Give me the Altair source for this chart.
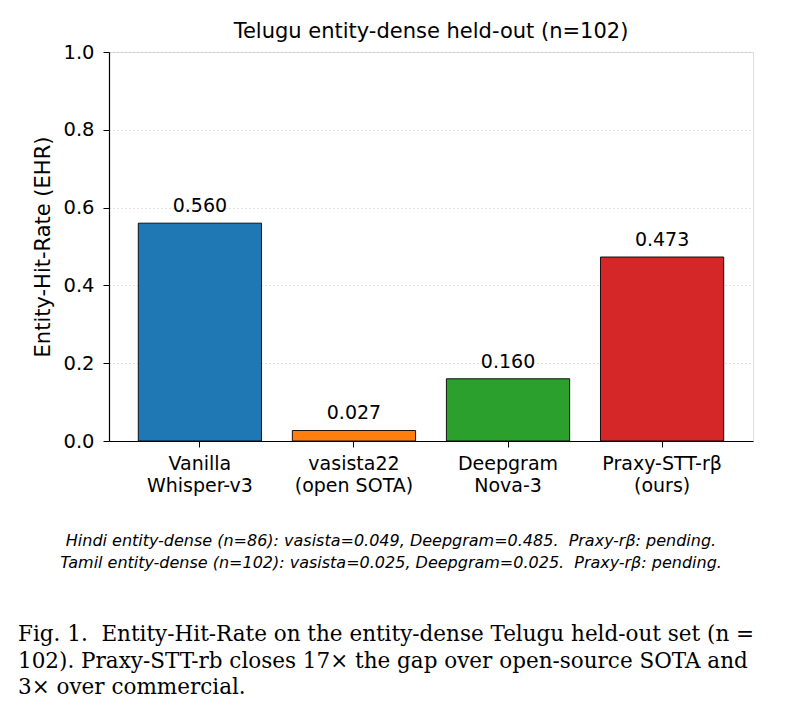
import altair as alt
import pandas as pd

models = ["Vanilla\nWhisper-v3", "vasista22\n(open SOTA)", "Deepgram\nNova-3", "Praxy-STT-rβ\n(ours)"]
ehr = [0.560, 0.027, 0.160, 0.473]
colors = ["#1f77b4", "#ff7f0e", "#2ca02c", "#d62728"]
y_ticks = [0.0, 0.2, 0.4, 0.6, 0.8, 1.0]

title_text = "Telugu entity-dense held-out (n=102)"
footnotes = [
    "Hindi entity-dense (n=86): vasista=0.049, Deepgram=0.485.\u00a0 Praxy-rβ: pending.",
    "Tamil entity-dense (n=102): vasista=0.025, Deepgram=0.025.\u00a0 Praxy-rβ: pending.",
]
caption = [
    "Fig. 1.\u00a0 Entity-Hit-Rate on the entity-dense Telugu held-out set (n =",
    "102). Praxy-STT-rb closes 17× the gap over open-source SOTA and",
    "3× over commercial.",
]

df = pd.DataFrame({"model": models, "ehr": ehr})

x_enc = alt.X(
    "model:N",
    sort=models,
    title=None,
    scale=alt.Scale(paddingInner=0.2, paddingOuter=0.19),
    axis=alt.Axis(
        labelAngle=0,
        labelExpr="split(datum.label, '\\n')",
        labelFontSize=19,
        labelLineHeight=22,
        labelColor="black",
        labelPadding=7,
        labelBaseline="top",
        tickSize=6,
        tickColor="black",
        domainColor="black",
        domainWidth=1.2,
        grid=False,
    ),
)
y_enc = alt.Y(
    "ehr:Q",
    title="Entity-Hit-Rate (EHR)",
    scale=alt.Scale(domain=[0, 1], nice=False),
    axis=alt.Axis(
        values=y_ticks,
        format=".1f",
        labelFontSize=19.5,
        labelColor="black",
        labelPadding=9,
        tickSize=6,
        tickColor="black",
        domainColor="black",
        domainWidth=1.2,
        titleFontSize=21,
        titleFontWeight="normal",
        titleColor="black",
        titlePadding=9,
        grid=True,
        gridDash=[1, 3],
        gridColor="#b0b0b0",
        gridWidth=0.8,
    ),
)

bars = alt.Chart(df).mark_bar(stroke="black", strokeWidth=0.9).encode(
    x=x_enc,
    y=y_enc,
    color=alt.Color("model:N", sort=models, scale=alt.Scale(domain=models, range=colors), legend=None),
)

labels = alt.Chart(df).mark_text(dy=-7, baseline="bottom", fontSize=19, color="black").encode(
    x=alt.X("model:N", sort=models),
    y="ehr:Q",
    text=alt.Text("ehr:Q", format=".3f"),
)


def text_line(s, x, y, **kw):
    return alt.Chart(pd.DataFrame({"t": [s]})).mark_text(color="black", baseline="middle", **kw).encode(
        x=alt.value(x), y=alt.value(y), text="t:N"
    )


layers = [bars, labels, text_line(title_text, 322, -20, fontSize=21, align="center")]
for i, s in enumerate(footnotes):
    layers.append(text_line(s, 282, 489 + 22 * i, fontSize=16, fontStyle="italic", align="center"))
for i, s in enumerate(caption):
    layers.append(text_line(s, -91, 583 + 26.5 * i, fontSize=21.5, font="DejaVu Serif", align="left"))

chart = alt.layer(*layers).properties(
    width=644,
    height=389,
    autosize=alt.AutoSizeParams(type="none"),
    padding={"left": 109, "top": 52, "right": 32, "bottom": 277},
    background="white",
).configure_view(stroke=None).configure(font="DejaVu Sans")

chart.save("out.html", embed_options={"renderer": "svg", "actions": False})
